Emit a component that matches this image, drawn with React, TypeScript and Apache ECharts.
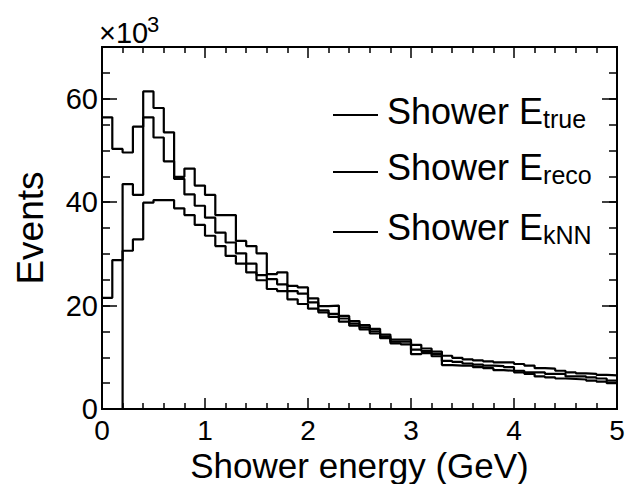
import React, { useEffect, useRef } from "react";
import * as echarts from "echarts";

// Histogram binning (GeV)
const BIN_WIDTH = 0.1;
const X_MIN = 0;
const X_MAX = 5;

// Events per 0.1 GeV bin, in units of 10^3
const recoCounts = [
  56.4, 50.3, 49.6, 54.6, 61.4, 58.2, 53.5, 44.9, 46.5, 43.2,
  41.4, 37.5, 37.5, 32.5, 31.5, 30.1, 26.1, 26.4, 23.8, 23.5,
  21.4, 19.9, 20.0, 18.0, 17.0, 16.2, 15.5, 14.4, 13.4, 13.4,
  12.4, 11.7, 11.1, 10.3, 9.9, 9.6, 9.4, 9.2, 9.0, 9.0,
  8.7, 8.4, 7.9, 7.8, 7.4, 7.1, 6.9, 6.8, 6.6, 6.5,
];
const knnCounts = [
  21.5, 28.8, 43.5, 41.4, 56.4, 52.5, 47.9, 44.5, 41.5, 39.3,
  37.0, 34.1, 32.2, 30.1, 28.1, 25.9, 25.1, 24.1, 22.8, 22.3,
  20.6, 19.1, 18.4, 17.5, 16.5, 15.8, 15.0, 14.0, 13.0, 13.0,
  10.6, 10.8, 10.2, 8.5, 8.4, 8.4, 8.1, 7.9, 7.5, 7.4,
  7.1, 6.8, 6.3, 6.1, 5.9, 5.8, 5.7, 5.5, 5.3, 5.0,
];
const trueCounts = [
  0, 0, 30.6, 32.8, 39.9, 40.4, 40.4, 38.8, 37.5, 35.6,
  33.5, 31.5, 29.6, 28.1, 26.4, 24.9, 23.2, 22.8, 21.2, 20.3,
  19.4, 18.7, 17.8, 16.9, 16.1, 15.4, 14.6, 13.7, 12.7, 12.5,
  11.5, 11.2, 10.6, 9.3, 9.1, 8.8, 8.6, 8.4, 8.3, 8.1,
  7.4, 7.1, 7.1, 6.8, 6.8, 6.3, 6.3, 6.1, 5.9, 5.5,
];

const seriesNames = ["Shower E_true", "Shower E_reco", "Shower E_kNN"];
const legendMain = ["Shower E", "Shower E", "Shower E"];
const legendSub = ["true", "reco", "kNN"];

const Y_MIN = 0;
const Y_MAX = 70;
const Y_MAJOR = 20;
const Y_MINOR = 5;
const X_MAJOR = 1;

const FONT = "'Liberation Sans', Arial, Helvetica, sans-serif";

function toSteps(values: number[]): [number, number][] {
  const pts: [number, number][] = values.map((v, i) => [
    Number((X_MIN + i * BIN_WIDTH).toFixed(3)),
    v,
  ]);
  pts.push([X_MAX, values[values.length - 1]]);
  return pts;
}

export default function App() {
  const ref = useRef<HTMLDivElement>(null);

  useEffect(() => {
    document.body.style.margin = "0";
    if (!ref.current) return;
    const chart = echarts.init(ref.current, undefined, { renderer: "svg" });

    const lineStyle = { color: "#000", width: 2 };
    const tickStyle = { color: "#000", width: 1.5 };

    const xBase = {
      type: "value" as const,
      min: X_MIN,
      max: X_MAX,
      interval: X_MAJOR,
      splitLine: { show: false },
      axisLine: { show: true, onZero: false, lineStyle },
      axisTick: { show: true, inside: true, length: 11, lineStyle: tickStyle },
      minorTick: { show: true, splitNumber: 5, length: 6, lineStyle: tickStyle },
    };

    const yBase = {
      type: "value" as const,
      min: Y_MIN,
      max: Y_MAX,
      splitLine: { show: false },
      axisLine: { show: true, onZero: false, lineStyle },
    };

    const data = [trueCounts, recoCounts, knnCounts];

    chart.setOption({
      animation: false,
      backgroundColor: "#fff",
      grid: {
        left: 102,
        top: 47,
        width: 515,
        height: 362,
        containLabel: false,
        outerBoundsMode: "none",
      },
      xAxis: [
        {
          ...xBase,
          position: "bottom",
          axisLabel: {
            show: true,
            color: "#000",
            fontFamily: FONT,
            fontSize: 28,
            lineHeight: 22,
            margin: 10,
          },
          name: "Shower energy (GeV)",
          nameLocation: "middle",
          nameGap: 41,
          nameMoveOverlap: false,
          nameTextStyle: {
            color: "#000",
            fontFamily: FONT,
            fontSize: 35,
            lineHeight: 30,
          },
        },
        {
          ...xBase,
          position: "top",
          axisLabel: { show: false },
        },
      ],
      yAxis: [
        {
          ...yBase,
          position: "left",
          interval: Y_MAJOR,
          axisTick: { show: true, inside: true, length: 15, lineStyle: tickStyle },
          axisLabel: {
            show: true,
            color: "#000",
            fontFamily: FONT,
            fontSize: 29,
            lineHeight: 22,
            margin: 4,
            showMaxLabel: false,
            padding: [5, 0, 0, 0],
          },
          name: "Events",
          nameLocation: "middle",
          nameGap: 53,
          nameRotate: 90,
          nameMoveOverlap: false,
          nameTextStyle: { color: "#000", fontFamily: FONT, fontSize: 37 },
        },
        {
          ...yBase,
          position: "left",
          interval: Y_MINOR,
          axisTick: { show: true, inside: true, length: 8, lineStyle: tickStyle },
          axisLabel: { show: false },
        },
        {
          ...yBase,
          position: "right",
          interval: Y_MAJOR,
          axisTick: { show: true, inside: true, length: 15, lineStyle: tickStyle },
          axisLabel: { show: false },
        },
        {
          ...yBase,
          position: "right",
          interval: Y_MINOR,
          axisTick: { show: true, inside: true, length: 8, lineStyle: tickStyle },
          axisLabel: { show: false },
        },
      ],
      series: data.map((vals, i) => ({
        name: seriesNames[i],
        type: "line",
        xAxisIndex: 0,
        yAxisIndex: 0,
        step: "end",
        symbol: "none",
        showSymbol: false,
        silent: true,
        lineStyle: { color: "#000", width: 2.2 },
        data: toSteps(vals),
      })),
      graphic: [
        {
          type: "text",
          x: 99,
          y: 33,
          style: {
            text: "\u00d710",
            fill: "#000",
            font: `29px ${FONT}`,
            align: "left",
            verticalAlign: "middle",
          },
        },
        {
          type: "text",
          x: 147,
          y: 24,
          style: {
            text: "3",
            fill: "#000",
            font: `22px ${FONT}`,
            align: "left",
            verticalAlign: "middle",
          },
        },
        ...legendMain.flatMap((main, i) => {
          const textY = [111, 167, 227][i];
          const lineY = [115, 172, 232][i];
          return [
            {
              type: "line",
              shape: { x1: 333, y1: lineY, x2: 378, y2: lineY },
              style: { stroke: "#000", lineWidth: 2.2 },
            },
            {
              type: "text",
              x: 387,
              y: textY,
              style: {
                text: `{m|${main}}{s|${legendSub[i]}}`,
                align: "left",
                verticalAlign: "middle",
                fill: "#000",
                rich: {
                  m: {
                    fontFamily: FONT,
                    fontSize: 36,
                    lineHeight: 40,
                    fill: "#000",
                    verticalAlign: "middle",
                  },
                  s: {
                    fontFamily: FONT,
                    fontSize: 25,
                    lineHeight: 12,
                    fill: "#000",
                    verticalAlign: "bottom",
                  },
                },
              },
            },
          ];
        }),
      ],
    });

    return () => {
      chart.dispose();
    };
  }, []);

  return <div ref={ref} style={{ width: 627, height: 484 }} />;
}
